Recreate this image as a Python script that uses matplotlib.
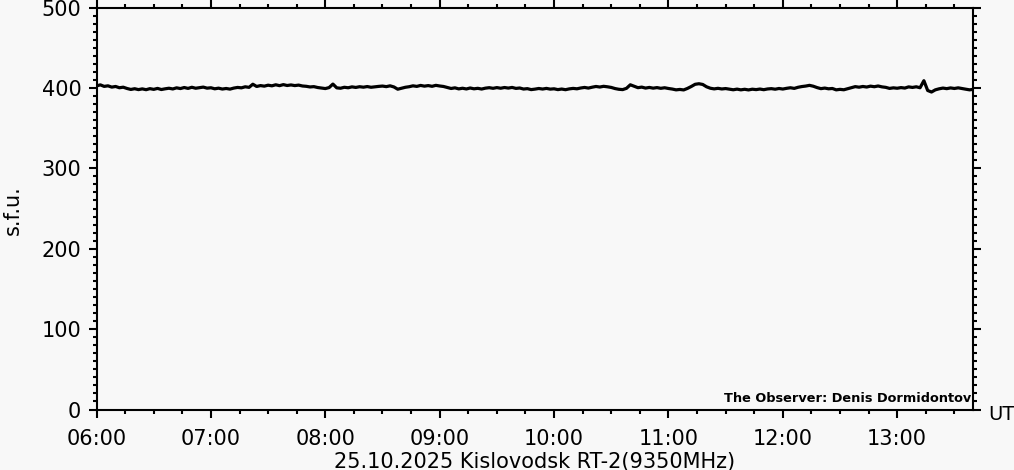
import numpy as np
import matplotlib
matplotlib.use("Agg")
import matplotlib.pyplot as plt
from matplotlib.ticker import MultipleLocator, FixedLocator

# flux in s.f.u., one reading every 2 minutes starting 06:00 UT
START_HOUR = 6.0
STEP_MIN = 2
flux = [
    402.5, 403.8, 401.9, 402.6, 401.0, 401.8, 400.2, 400.9, 399.3, 398.1, 399.0, 397.9, 398.8, 397.8, 399.1,
    398.2, 399.4, 398.0, 398.9, 399.6, 398.7, 400.1, 399.2, 400.5, 399.4, 400.8, 399.6, 400.3, 401.0, 399.7,
    400.2, 398.9, 399.7, 398.6, 399.3, 398.5, 399.8, 400.6, 400.1, 401.4, 400.7, 404.6, 401.8, 402.9, 402.2,
    403.4, 402.6, 403.9, 402.8, 404.1, 403.0, 403.7, 402.9, 403.5, 402.4, 402.0, 401.2, 401.6, 400.5, 399.8,
    399.2, 400.4, 404.8, 400.1, 399.6, 400.8, 400.2, 401.3, 400.6, 401.5, 400.9, 401.7, 400.8, 401.4, 401.9,
    402.3, 401.6, 402.6, 401.2, 398.4, 399.6, 400.8, 401.5, 402.6, 401.9, 403.1, 402.2, 402.9, 402.0, 403.2,
    402.4, 401.8, 400.6, 399.3, 400.1, 398.8, 399.6, 398.7, 399.9, 398.9, 399.5, 398.6, 399.7, 400.3, 399.5,
    400.4, 399.6, 400.5, 399.8, 400.6, 399.4, 399.9, 398.6, 399.1, 397.9, 398.5, 399.3, 398.6, 399.4, 398.5,
    398.9, 397.9, 398.6, 397.8, 398.8, 399.4, 398.9, 399.9, 400.6, 399.8, 400.9, 401.8, 401.1, 402.0, 401.4,
    400.6, 399.2, 398.3, 397.9, 399.5, 403.9, 402.1, 400.3, 401.0, 399.8, 400.6, 399.7, 400.4, 399.5, 400.2,
    399.3, 398.6, 397.6, 398.1, 397.5, 399.4, 401.8, 404.5, 405.2, 404.3, 401.4, 399.6, 398.8, 399.5, 398.7,
    399.2, 398.4, 397.7, 398.5, 397.6, 398.3, 397.5, 398.4, 397.9, 398.6, 397.8, 398.7, 399.1, 398.4, 399.3,
    398.6, 399.5, 400.2, 399.4, 400.8, 401.7, 402.3, 403.2, 402.1, 400.4, 399.1, 399.8, 398.9, 399.3, 397.6,
    398.2, 397.7, 399.0, 400.3, 401.6, 400.9, 401.8, 401.1, 402.2, 401.5, 402.4, 401.3, 400.7, 399.4, 400.1,
    399.6, 400.4, 399.8, 401.3, 400.6, 401.4, 400.2, 409.0, 396.8, 394.9, 397.6, 398.9, 399.8, 399.1, 400.0,
    399.3, 400.1, 399.2, 398.4, 397.6, 398.3,
]
hour_ticks = [6, 7, 8, 9, 10, 11, 12, 13]
hour_labels = ["06:00", "07:00", "08:00", "09:00", "10:00", "11:00", "12:00", "13:00"]
x_range = (6.0, 13 + 40 / 60)
y_range = (0, 500)
title = "25.10.2025 Kislovodsk RT-2(9350MHz)"
observer = "The Observer: Denis Dormidontov"

BG = "#f8f8f8"
plt.rcParams["font.family"] = ["DejaVu Sans"]

hours = START_HOUR + np.arange(len(flux)) * STEP_MIN / 60.0

fig = plt.figure(figsize=(10.14, 4.70), dpi=100, facecolor=BG)
ax = fig.add_axes([0.0952, 0.1287, 0.960 - 0.0952, 0.984 - 0.1287], facecolor=BG)

ax.plot(hours, flux, color="black", lw=2.3)

ax.set_xlim(*x_range)
ax.set_ylim(*y_range)

ax.xaxis.set_major_locator(FixedLocator(hour_ticks))
ax.set_xticklabels(hour_labels)
ax.xaxis.set_minor_locator(MultipleLocator(0.25))
ax.yaxis.set_major_locator(MultipleLocator(100))
ax.yaxis.set_minor_locator(MultipleLocator(10))

ax.tick_params(which="both", direction="out", top=True, right=True,
               width=1.5, color="black", labelsize=15)
ax.tick_params(which="major", length=6)
ax.tick_params(which="minor", length=3)
ax.tick_params(axis="x", which="major", pad=8)
ax.tick_params(axis="y", which="major", pad=5)
for sp in ax.spines.values():
    sp.set_linewidth(1.5)

ax.set_xlabel(title, fontsize=15, labelpad=2)
fig.text(13 / 1014, 1 - 210 / 470, "s.f.u.", rotation=90, fontsize=15,
         ha="center", va="center")
fig.text(988 / 1014, 1 - 415 / 470, "UT", fontsize=14, ha="left", va="center")
ax.text(0.997, 0.012, observer, transform=ax.transAxes, ha="right",
        va="bottom", fontsize=9.3, fontweight="bold")

fig.savefig("out.png", dpi=100, facecolor=BG)
